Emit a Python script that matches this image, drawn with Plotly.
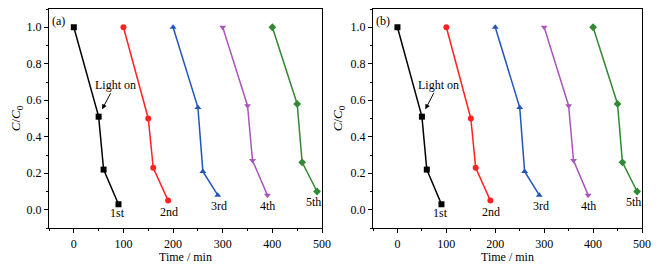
import plotly.graph_objects as go

times = [[0, 50, 60, 90], [100, 150, 160, 190], [200, 250, 260, 290],
         [300, 350, 360, 390], [400, 450, 460, 490]]
values = [[1.0, 0.51, 0.22, 0.03], [1.0, 0.50, 0.23, 0.05], [1.0, 0.56, 0.21, 0.08],
          [1.0, 0.57, 0.27, 0.08], [1.0, 0.58, 0.26, 0.10]]
run_labels = ["1st", "2nd", "3rd", "4th", "5th"]
label_pos = [(87, -0.02), (192, -0.01), (293, 0.02), (391, 0.02), (483, 0.04)]
colors = ["#000000", "#ff2222", "#2255bb", "#aa55bb", "#338833"]
symbols = ["square", "circle", "triangle-up", "triangle-down", "diamond"]
panels = ["(a)", "(b)"]

FONT = "Liberation Serif"
W, H = 659, 264
OFF = 8  # page body margin
fig = go.Figure()
doms = [((49 - OFF) / W, (322 - OFF) / W), ((373 - OFF) / W, (642 - OFF) / W)]
ydom = ((H - (228 - OFF)) / H, (H - (9 - OFF)) / H)

for p in range(2):
    xa = "x" if p == 0 else "x2"
    ya = "y" if p == 0 else "y2"
    for i in range(5):
        fig.add_trace(go.Scatter(x=times[i], y=values[i], mode="lines+markers",
                                 line=dict(color=colors[i], width=1.5),
                                 marker=dict(symbol=symbols[i], size=6, color=colors[i]),
                                 xaxis=xa, yaxis=ya, showlegend=False))
        fig.add_annotation(x=label_pos[i][0], y=label_pos[i][1], text=run_labels[i],
                           xref=xa, yref=ya, showarrow=False,
                           font=dict(family=FONT, size=12, color="black"))
    fig.add_annotation(x=57, y=0.55, ax=83, ay=0.685, axref=xa, ayref=ya,
                       xref=xa, yref=ya, showarrow=True, arrowhead=2, arrowsize=1,
                       arrowwidth=1, arrowcolor="black", text="Light on",
                       font=dict(family=FONT, size=12, color="black"))
    fig.add_annotation(x=-48, y=1.085, xref=xa, yref=ya,
                       xanchor="left", yanchor="top", text=panels[p], showarrow=False,
                       font=dict(family=FONT, size=12, color="black"))

axis_common = dict(showline=True, linecolor="black", linewidth=1.2, mirror=True,
                   ticks="outside", ticklen=4, tickcolor="black", showgrid=False,
                   zeroline=False, tickfont=dict(family=FONT, size=12, color="black"),
                   automargin=False)

xcommon = dict(axis_common, range=[-50, 500], dtick=100, tick0=0,
               minor=dict(dtick=50, ticks="outside", ticklen=2, tickcolor="black"),
               title=dict(text="Time / min", font=dict(family=FONT, size=12, color="black"),
                          standoff=0))
ycommon = dict(axis_common, range=[-0.1, 1.1], dtick=0.2, tick0=0, tickformat=".1f",
               minor=dict(dtick=0.1, ticks="outside", ticklen=2, tickcolor="black"),
               title=dict(text="<i>C</i>/<i>C</i><sub>0</sub>",
                          font=dict(family=FONT, size=13, color="black"), standoff=4))

fig.update_layout(
    width=W, height=H, margin=dict(l=0, r=0, t=0, b=0),
    paper_bgcolor="white", plot_bgcolor="white",
    xaxis=dict(xcommon, domain=list(doms[0]), anchor="y"),
    yaxis=dict(ycommon, domain=list(ydom), anchor="x"),
    xaxis2=dict(xcommon, domain=list(doms[1]), anchor="y2"),
    yaxis2=dict(ycommon, domain=list(ydom), anchor="x2"),
)

fig.write_html("out.html")
